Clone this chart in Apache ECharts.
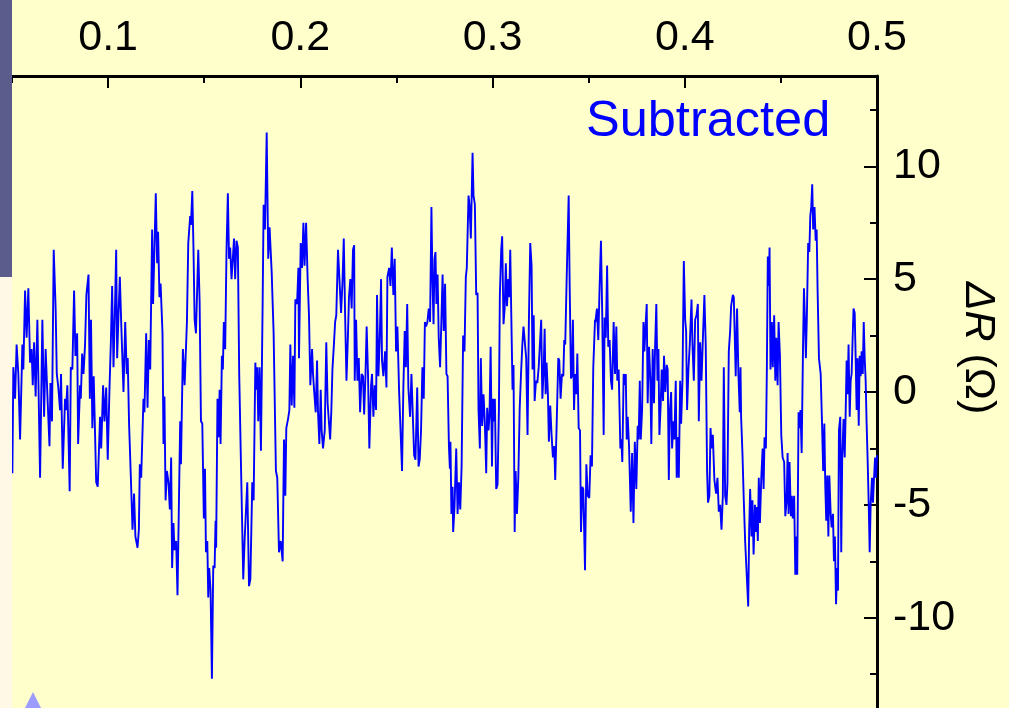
<!DOCTYPE html>
<html>
<head>
<meta charset="utf-8">
<script src="https://cdn.jsdelivr.net/npm/echarts@6/dist/echarts.min.js"></script>
<style>
html,body{margin:0;padding:0;background:#FFFFCC;}
#chart{width:1009px;height:708px;}
</style>
</head>
<body>
<div id="chart"></div>
<script>
// field values (x) and subtracted resistance ΔR (Ω)
const xs = [
0.0500,0.0502,0.0507,0.0516,0.0524,0.0533,0.0542,0.0554,0.0559,0.0568,0.0576,0.0585,0.0594,0.0602,0.0608,0.0615,0.0623,0.0632,0.0646,0.0658,
0.0667,0.0675,0.0684,0.0695,0.0700,0.0708,0.0717,0.0727,0.0733,0.0741,0.0750,0.0755,0.0764,0.0776,0.0781,0.0788,0.0800,0.0806,0.0814,0.0823,
0.0830,0.0839,0.0844,0.0854,0.0858,0.0865,0.0872,0.0880,0.0887,0.0898,0.0905,0.0911,0.0918,0.0925,0.0938,0.0946,0.0958,0.0964,0.0974,0.0981,
0.0990,0.0998,0.1007,0.1014,0.1021,0.1028,0.1035,0.1042,0.1047,0.1054,0.1061,0.1068,0.1080,0.1089,0.1097,0.1102,0.1109,0.1118,0.1127,0.1135,
0.1142,0.1153,0.1160,0.1165,0.1172,0.1184,0.1189,0.1198,0.1205,0.1212,0.1219,0.1229,0.1234,0.1248,0.1255,0.1260,0.1267,
0.1273,0.1283,0.1288,0.1293,0.1299,0.1306,0.1314,0.1321,0.1328,0.1333,0.1340,0.1345,0.1354,0.1361,0.1370,0.1375,0.1379,0.1389,0.1398,0.1410,
0.1417,0.1427,0.1431,0.1438,0.1444,0.1450,0.1457,0.1469,0.1476,0.1483,0.1490,0.1498,0.1504,0.1509,0.1516,0.1521,0.1526,0.1533,0.1540,0.1547,
0.1554,0.1559,0.1562,0.1569,0.1575,0.1580,0.1585,0.1592,0.1597,0.1602,0.1609,0.1616,0.1623,0.1629,0.1635,0.1642,0.1648,0.1655,0.1661,0.1668,
0.1675,0.1682,0.1693,0.1703,0.1710,0.1724,0.1733,0.1740,0.1750,0.1757,0.1766,0.1771,0.1776,0.1781,0.1788,0.1795,0.1804,0.1809,0.1816,0.1825,
0.1833,0.1840,0.1851,0.1861,0.1873,0.1880,0.1889,0.1898,0.1908,0.1915,0.1922,0.1927,0.1936,0.1943,0.1948,0.1955,0.1962,0.1969,0.1974,0.1983,
0.1990,0.1993,0.2002,0.2009,0.2016,0.2022,
0.2030,0.2038,0.2045,0.2052,0.2061,0.2066,0.2073,0.2080,0.2087,0.2092,0.2099,0.2106,0.2111,0.2118,0.2127,0.2135,0.2142,0.2149,0.2155,0.2161,
0.2167,0.2174,0.2181,0.2187,0.2196,0.2205,0.2212,0.2219,0.2226,0.2233,0.2240,0.2247,0.2253,0.2260,0.2267,0.2274,0.2280,0.2283,0.2290,0.2297,
0.2304,0.2311,0.2319,0.2326,0.2332,0.2339,0.2345,0.2352,0.2359,0.2368,0.2373,0.2380,0.2387,0.2394,0.2399,0.2406,0.2413,0.2420,0.2425,0.2432,
0.2441,0.2448,0.2453,0.2462,0.2469,0.2476,0.2484,0.2491,0.2498,0.2505,0.2514,0.2521,0.2529,0.2536,0.2543,0.2549,0.2556,0.2562,0.2571,0.2578,
0.2585,0.2592,0.2599,0.2608,0.2615,0.2621,0.2628,0.2635,0.2642,0.2648,0.2654,0.2661,0.2668,0.2675,0.2682,0.2687,0.2693,0.2698,0.2703,0.2708,
0.2714,0.2720,0.2727,0.2733,0.2740,0.2746,0.2753,0.2760,0.2766,0.2773,0.2778,
0.2781,0.2786,0.2792,0.2795,0.2802,0.2811,0.2818,0.2825,0.2832,0.2839,0.2847,0.2854,0.2861,0.2866,0.2875,0.2880,0.2887,0.2896,0.2901,0.2908,
0.2915,0.2922,0.2927,0.2934,0.2939,0.2946,0.2953,0.2960,0.2967,0.2972,0.2979,0.2984,0.2990,0.2997,0.3002,0.3007,0.3012,0.3019,0.3026,0.3033,
0.3038,0.3045,0.3050,0.3057,0.3063,0.3069,0.3075,0.3082,0.3087,0.3092,0.3099,0.3104,0.3109,0.3115,0.3120,0.3127,0.3134,0.3141,0.3148,0.3155,
0.3161,0.3168,0.3175,0.3182,0.3189,0.3196,0.3203,0.3208,0.3214,0.3219,0.3226,0.3233,0.3240,0.3246,0.3253,0.3259,0.3266,0.3271,0.3276,0.3281,
0.3288,0.3293,0.3300,0.3307,0.3314,0.3321,0.3326,0.3333,0.3342,0.3347,0.3354,0.3361,0.3368,0.3373,0.3378,0.3385,0.3396,0.3401,0.3408,0.3413,
0.3418,0.3424,0.3429,0.3436,0.3441,0.3448,0.3455,0.3460,0.3467,0.3472,0.3481,0.3488,0.3495,0.3503,0.3510,0.3517,0.3524,0.3533,
0.3535,0.3543,0.3550,0.3557,0.3564,0.3571,0.3578,0.3583,0.3589,0.3596,0.3602,0.3609,0.3616,0.3622,0.3630,0.3637,0.3644,0.3649,0.3656,0.3665,
0.3670,0.3675,0.3682,0.3689,0.3693,0.3698,0.3703,0.3710,0.3719,0.3726,0.3733,0.3740,0.3748,0.3755,0.3760,0.3766,0.3771,0.3778,0.3785,0.3790,
0.3797,0.3802,0.3807,0.3814,0.3821,0.3826,0.3833,0.3840,0.3845,0.3852,0.3858,0.3863,0.3868,0.3875,0.3880,0.3887,0.3892,0.3899,0.3906,0.3911,
0.3917,0.3922,0.3929,0.3934,0.3941,0.3946,0.3953,0.3958,0.3964,0.3969,0.3976,0.3981,0.3988,0.3995,0.4002,0.4007,0.4012,0.4019,0.4026,0.4035,
0.4040,0.4047,0.4054,0.4061,0.4068,0.4073,0.4080,0.4087,0.4094,0.4102,0.4109,0.4116,0.4121,0.4128,0.4134,0.4139,0.4146,0.4154,0.4163,0.4170,
0.4177,0.4184,0.4191,0.4198,0.4203,0.4210,0.4217,0.4222,0.4229,0.4236,0.4241,0.4250,0.4255,0.4265,0.4272,0.4279,0.4286,
0.4290,0.4293,0.4300,0.4307,0.4314,0.4323,0.4330,0.4335,0.4340,0.4347,0.4352,0.4358,0.4365,0.4370,0.4375,0.4380,0.4385,0.4391,0.4398,0.4405,
0.4410,0.4415,0.4422,0.4427,0.4432,0.4437,0.4441,0.4446,0.4453,0.4458,0.4465,0.4471,0.4476,0.4483,0.4488,0.4495,0.4502,0.4509,0.4517,0.4523,
0.4530,0.4535,0.4540,0.4545,0.4552,0.4557,0.4562,0.4569,0.4575,0.4580,0.4585,0.4592,0.4597,0.4602,0.4608,0.4615,0.4620,0.4625,0.4630,0.4635,
0.4642,0.4648,0.4653,0.4658,0.4663,0.4668,0.4675,0.4681,0.4686,0.4691,0.4698,0.4707,0.4714,0.4720,0.4726,0.4731,0.4736,0.4741,0.4747,0.4752,
0.4759,0.4764,0.4771,0.4776,0.4781,0.4787,0.4792,0.4797,0.4802,0.4809,0.4814,0.4819,0.4826,0.4832,0.4837,0.4842,0.4847,0.4852,0.4858,0.4863,
0.4868,0.4873,0.4878,0.4884,0.4889,0.4894,0.4899,0.4905,0.4910,0.4915,0.4920,0.4926,0.4931,0.4936,0.4941,0.4946,0.4951,0.4957,0.4962,0.4967,
0.4974,0.4979,0.4984,0.4990,0.4995,0.5000
];
const ys = [
-3.0,-3.6,1.1,-0.3,2.1,0.8,-2.1,2.1,1.0,4.5,2.4,4.6,1.3,1.9,0.3,2.2,-0.2,3.2,-3.8,3.2,
-1.1,1.9,-0.1,-2.4,0.4,-1.3,6.3,3.7,0.8,0.2,-0.8,0.8,-3.4,-0.3,-0.8,0.3,-4.4,1.1,1.0,4.5,
1.6,2.6,-2.3,0.3,-0.3,1.7,0.8,2.1,4.3,5.2,-0.3,3.2,-1.6,0.7,-4.0,-4.2,-1.1,-2.5,0.3,-1.3,
0.2,-3.0,0.1,2.1,4.7,1.1,3.4,6.3,1.5,3.4,5.1,3.1,0.0,3.1,0.8,1.5,-1.4,-3.7,-6.1,-4.5,
-6.4,-6.9,-6.1,-3.2,-3.8,-0.3,-0.9,2.6,-0.7,2.3,1.0,7.2,3.9,8.8,5.7,7.1,4.2,
4.8,2.6,-2.3,-0.2,-4.8,-3.5,-4.0,-5.2,-2.9,-7.8,-5.8,-7.0,-6.6,-9.0,-4.0,-1.3,-3.2,1.9,0.3,3.1,
6.6,7.8,7.4,8.9,6.4,3.2,2.6,6.3,4.0,-1.3,-1.4,-5.6,-3.4,-7.1,-6.6,-9.1,-7.8,-8.8,-12.7,-7.7,
-7.8,-5.7,-6.9,-0.3,-2.0,0.1,-2.3,1.6,1.0,3.1,1.9,6.3,8.8,5.9,6.4,5.0,5.8,6.8,5.0,6.7,
6.4,0.8,-4.0,-8.3,-6.6,-4.0,-8.6,-8.3,-4.0,-4.8,1.3,0.1,1.1,-1.3,1.1,-2.6,4.0,8.3,7.2,11.5,
5.9,7.3,5.3,2.6,-3.5,-3.8,-7.1,-6.6,-7.5,-2.1,-4.6,-1.6,-1.2,-0.8,2.1,-0.6,1.6,-0.7,4.1,3.9,
5.5,1.5,6.6,5.5,7.5,5.6,
7.5,5.0,3.4,0.3,1.9,0.8,-0.1,-0.9,1.4,-0.9,-2.3,0.1,-1.7,-2.5,-1.7,2.2,-0.5,-0.5,-2.1,-0.9,
1.0,2.0,3.1,3.4,6.3,4.7,3.5,4.8,6.8,3.4,0.5,2.3,4.2,5.0,3.7,6.3,6.5,0.5,3.2,0.5,
1.5,-0.9,0.8,0.7,-1.0,0.8,2.9,0.8,-2.5,0.3,0.8,-1.1,0.3,-0.8,4.3,0.7,2.3,5.0,1.4,0.7,
1.8,0.2,5.1,5.5,4.7,6.4,4.3,5.9,1.8,2.9,0.0,-1.6,-3.5,0.2,2.7,1.1,3.9,0.2,-1.1,0.8,
0.8,-2.8,-3.0,0.2,-3.3,-3.0,-1.7,1.1,-0.3,3.1,2.9,3.1,3.7,3.1,8.2,5.1,3.0,5.9,6.2,3.9,
5.2,2.4,1.1,2.9,5.2,2.7,4.8,0.8,0.7,-2.4,-3.4,
-2.2,-5.4,-4.2,-6.2,-5.1,-2.5,-5.4,-4.0,-5.2,-3.3,2.5,1.8,5.1,5.5,8.7,8.3,6.8,10.6,8.7,8.3,
4.3,4.4,-0.8,-2.5,1.5,-1.5,-0.1,-1.4,-3.6,-0.7,-1.7,-1.1,2.0,-3.3,-0.3,-1.3,-0.3,-4.3,-4.1,-0.8,
4.3,6.3,6.9,3.0,3.7,5.7,3.8,5.0,4.2,6.3,2.6,0.1,1.2,-6.2,-3.5,-5.4,-3.8,-0.8,0.8,2.1,
2.9,2.2,1.5,-1.9,3.1,6.6,5.6,1.0,3.4,-0.4,0.5,0.4,1.1,1.1,3.2,-0.3,1.0,2.8,-0.1,1.3,
-0.1,-2.2,-0.6,-1.9,-2.9,-2.4,-3.9,-1.6,1.5,1.4,-0.3,0.8,0.7,2.3,2.1,4.8,8.7,4.8,0.6,0.7,
3.2,-0.8,0.8,-0.1,1.7,-1.6,-1.7,-6.2,-4.2,-4.3,-7.9,-3.2,-4.6,-4.7,-2.8,-3.3,1.1,3.2,
3.1,3.7,2.3,4.7,6.7,3.2,-1.9,3.3,2.4,5.6,2.0,2.3,0.5,0.1,3.1,0.8,2.9,0.5,1.0,-2.5,
-2.1,-3.1,0.8,0.3,0.8,-2.1,-1.1,-2.4,-5.3,-2.7,-5.8,-2.2,-4.3,-1.5,-2.1,0.5,-2.1,-0.8,3.1,1.8,
3.1,3.9,-0.5,2.0,0.5,-2.3,1.9,-0.5,1.8,3.9,0.5,1.9,-1.9,-0.5,1.0,-0.4,1.6,0.0,1.2,1.0,
-3.9,-0.9,0.0,-2.5,-1.3,-2.1,0.5,-3.8,-2.0,-3.8,0.5,-1.4,0.5,5.8,3.2,2.7,-0.8,1.0,2.1,4.1,
2.1,0.5,3.2,3.4,3.9,-1.3,2.2,0.5,2.3,4.3,2.1,-3.5,-4.9,-4.6,-1.6,-2.5,-1.9,-3.9,-4.5,-3.8,
-5.3,-5.0,-6.1,-4.6,1.1,-4.6,-5.0,-4.0,1.8,2.7,3.8,4.3,4.2,0.7,3.7,0.8,-0.9,
1.1,-1.1,-2.7,-4.8,-6.6,-6.6,-9.5,-6.1,-4.3,-6.4,-4.8,-7.2,-5.0,-6.2,-5.1,-6.6,-3.8,-5.8,-3.8,-2.5,
-4.3,-2.0,-2.5,1.0,6.0,4.7,6.4,1.0,3.1,1.1,3.4,0.5,2.4,0.3,3.1,1.6,-1.9,-2.9,-3.1,-5.5,
-4.8,-2.7,-5.4,-3.1,-5.5,-4.6,-5.6,-4.6,-8.1,-6.4,-8.1,-0.9,-1.6,-0.8,-2.7,1.9,4.6,3.2,1.5,3.3,
6.6,6.2,7.8,8.2,9.2,7.2,8.2,6.7,7.2,4.5,1.5,0.8,-1.4,-3.5,-1.4,-4.2,-5.7,-3.7,-6.4,-3.7,
-5.4,-6.0,-5.4,-7.5,-6.4,-9.4,-7.8,-8.8,-1.7,-1.1,-7.1,-2.9,-1.2,-2.9,-0.9,1.4,-0.1,2.1,-1.1,0.5,
0.8,2.3,3.7,3.5,1.5,-0.8,1.5,-1.5,1.6,0.7,1.8,0.8,3.1,1.5,0.5,-1.4,-2.9,-5.0,-7.1,-5.0,
-3.8,-4.9,-3.9,-2.9,-3.8,-2.8
];
const xMajorTicks = [0.1, 0.2, 0.3, 0.4, 0.5];
const xMinorTicks = [0.05, 0.15, 0.25, 0.35, 0.45];
const yMajorTicks = [-10, -5, 0, 5, 10];
const yMinorTicks = [-12.5, -7.5, -2.5, 2.5, 7.5, 12.5];
const seriesLabel = 'Subtracted';

const FONT = '"Liberation Sans", Arial, sans-serif';
const data = xs.map((x, i) => [x, ys[i]]);

const chart = echarts.init(document.getElementById('chart'), null, {renderer: 'canvas'});
const axisLineStyle = {color: '#000', width: 3};
const option = {
  backgroundColor: '#FFFFCC',
  animation: false,
  grid: {left: 12, top: 76, width: 865, height: 636, containLabel: false},
  xAxis: [
    {
      type: 'value', position: 'top', min: 0.05, max: 0.5,
      axisLine: {show: true, onZero: false, lineStyle: axisLineStyle},
      axisTick: {show: true, inside: true, length: 12, lineStyle: {color: '#000', width: 2}, customValues: xMajorTicks},
      axisLabel: {show: true, customValues: xMajorTicks, fontSize: 43, fontFamily: FONT, color: '#000', margin: 38, verticalAlign: 'middle'},
      splitLine: {show: false}
    },
    {
      type: 'value', position: 'top', min: 0.05, max: 0.5,
      axisLine: {show: false, onZero: false},
      axisTick: {show: true, inside: true, length: 7, lineStyle: {color: '#000', width: 2}, customValues: xMinorTicks},
      axisLabel: {show: false},
      splitLine: {show: false}
    }
  ],
  yAxis: [
    {
      type: 'value', position: 'right', min: -14, max: 14,
      axisLine: {show: true, onZero: false, lineStyle: axisLineStyle},
      axisTick: {show: true, inside: true, length: 13, lineStyle: {color: '#000', width: 2}, customValues: yMajorTicks},
      axisLabel: {show: true, customValues: yMajorTicks, fontSize: 43, fontFamily: FONT, color: '#000', margin: 16},
      splitLine: {show: false}
    },
    {
      type: 'value', position: 'right', min: -14, max: 14,
      axisLine: {show: false, onZero: false},
      axisTick: {show: true, inside: true, length: 7, lineStyle: {color: '#000', width: 2}, customValues: yMinorTicks},
      axisLabel: {show: false},
      splitLine: {show: false}
    }
  ],
  series: [{
    type: 'line', name: seriesLabel, xAxisIndex: 0, yAxisIndex: 0,
    data: data, showSymbol: false, symbol: 'none',
    lineStyle: {color: '#0000FF', width: 1.9}, clip: true
  }],
  graphic: [
    {type: 'rect', left: 0, top: 0, shape: {width: 12, height: 277}, style: {fill: '#5C5C8C'}, z: 10},
    {type: 'rect', left: 0, top: 277, shape: {width: 12, height: 431}, style: {fill: '#FFF8E6'}, z: 10},
    {type: 'polygon', shape: {points: [[33, 692], [25, 708], [41, 708]]}, style: {fill: '#9C9CFF'}, z: 10},
    {type: 'text', x: 586, y: 122, style: {text: seriesLabel, fill: '#0000FF', fontSize: 50.5, fontFamily: FONT, align: 'left', verticalAlign: 'middle'}, z: 10},
    {type: 'text', x: 978, y: 348, rotation: -Math.PI / 2,
     style: {text: '{i|ΔR} (Ω)', fill: '#000', fontSize: 43, fontFamily: FONT, align: 'center', verticalAlign: 'middle',
             rich: {i: {fontStyle: 'italic', fontSize: 43, fontFamily: FONT, fill: '#000'}}}, z: 10}
  ]
};
chart.setOption(option);
</script>
</body>
</html>
